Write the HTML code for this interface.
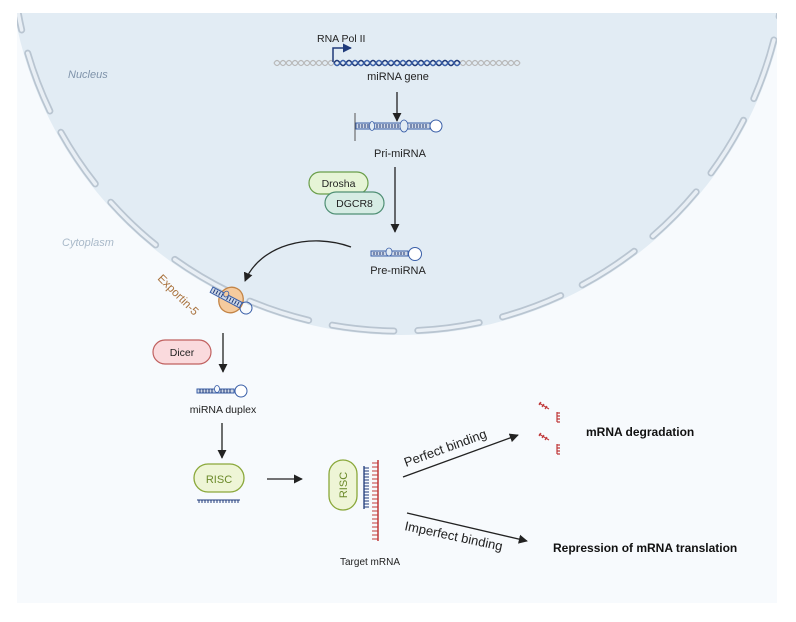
<!DOCTYPE html>
<html><head><meta charset="utf-8"><style>
body{margin:0;background:#fff;}
svg{display:block;font-family:"Liberation Sans",sans-serif;}
</style></head><body>
<svg width="796" height="622" viewBox="0 0 796 622" xmlns="http://www.w3.org/2000/svg">
<defs>
<clipPath id="pc"><rect x="17" y="13" width="760" height="590"/></clipPath>
<marker id="ah" viewBox="0 0 10 10" refX="9" refY="5" markerWidth="7" markerHeight="7" orient="auto"><path d="M0,0 L10,5 L0,10 z" fill="#222"/></marker>
<marker id="ahb" viewBox="0 0 10 10" refX="9" refY="5" markerWidth="6" markerHeight="6" orient="auto"><path d="M0,0 L10,5 L0,10 z" fill="#1f3a7a"/></marker>
</defs>
<rect x="17" y="13" width="760" height="590" fill="#f7fafd"/>
<g clip-path="url(#pc)">
<circle cx="399" cy="-56" r="391" fill="#e2ecf4"/>
<circle cx="399" cy="-56" r="387" fill="none" stroke="#b9c5d1" stroke-width="7" stroke-linecap="round" stroke-dasharray="62 24" stroke-dashoffset="-11"/>
<circle cx="399" cy="-56" r="387" fill="none" stroke="#e9eff5" stroke-width="3.5" stroke-linecap="round" stroke-dasharray="62 24" stroke-dashoffset="-11"/>
</g>
<text x="68" y="78" font-size="11" font-style="italic" fill="#7f93aa">Nucleus</text>
<text x="62" y="246" font-size="11" font-style="italic" fill="#a9b9c9">Cytoplasm</text>

<!-- DNA -->
<path d="M274,63 q3,-5 6,0 t6,0 t6,0 t6,0 t6,0 t6,0 t6,0 t6,0 t6,0 t6,0 t6,0 t6,0 t6,0 t6,0 t6,0 t6,0 t6,0 t6,0 t6,0 t6,0 t6,0 t6,0 t6,0 t6,0 t6,0 t6,0 t6,0 t6,0 t6,0 t6,0 t6,0 t6,0 t6,0 t6,0 t6,0 t6,0 t6,0 t6,0 t6,0 t6,0 t6,0" fill="none" stroke="#b8b8b8" stroke-width="1.2"/>
<path d="M274,63 q3,5 6,0 t6,0 t6,0 t6,0 t6,0 t6,0 t6,0 t6,0 t6,0 t6,0 t6,0 t6,0 t6,0 t6,0 t6,0 t6,0 t6,0 t6,0 t6,0 t6,0 t6,0 t6,0 t6,0 t6,0 t6,0 t6,0 t6,0 t6,0 t6,0 t6,0 t6,0 t6,0 t6,0 t6,0 t6,0 t6,0 t6,0 t6,0 t6,0 t6,0 t6,0" fill="none" stroke="#b8b8b8" stroke-width="1.2"/>
<path d="M334,63 q3,-5 6,0 t6,0 t6,0 t6,0 t6,0 t6,0 t6,0 t6,0 t6,0 t6,0 t6,0 t6,0 t6,0 t6,0 t6,0 t6,0 t6,0 t6,0 t6,0 t6,0 t6,0" fill="none" stroke="#1f3a7a" stroke-width="1.6"/>
<path d="M334,63 q3,5 6,0 t6,0 t6,0 t6,0 t6,0 t6,0 t6,0 t6,0 t6,0 t6,0 t6,0 t6,0 t6,0 t6,0 t6,0 t6,0 t6,0 t6,0 t6,0 t6,0 t6,0" fill="none" stroke="#3a5fa8" stroke-width="1.6"/>
<path d="M333,62 V48 H351" fill="none" stroke="#1f3a7a" stroke-width="1.5" marker-end="url(#ahb)"/>
<text x="317" y="42" font-size="10.5" fill="#222">RNA Pol II</text>
<text x="398" y="80" font-size="11" text-anchor="middle" fill="#222">miRNA gene</text>
<line x1="397" y1="92" x2="397" y2="121" stroke="#222" stroke-width="1.3" marker-end="url(#ah)"/>

<!-- Pri-miRNA -->
<line x1="355" y1="113" x2="355" y2="141" stroke="#555" stroke-width="1"/>
<rect x="356" y="123" width="74" height="6" fill="#cfd8e6" stroke="#3a5fa8" stroke-width="1"/>
<path d="M359,124v4M362,124v4M365,124v4M368,124v4M377,124v4M380,124v4M383,124v4M386,124v4M389,124v4M392,124v4M395,124v4M398,124v4M411,124v4M414,124v4M417,124v4M420,124v4M423,124v4M426,124v4" stroke="#1f3a7a" stroke-width="1"/>
<ellipse cx="372" cy="126" rx="2.5" ry="4.5" fill="#e2ecf4" stroke="#3a5fa8" stroke-width="0.8"/>
<ellipse cx="404" cy="126" rx="4" ry="6" fill="#e2ecf4" stroke="#3a5fa8" stroke-width="0.8"/>
<circle cx="436" cy="126" r="6" fill="#fff" stroke="#3a5fa8" stroke-width="1"/>
<text x="400" y="157" font-size="11" text-anchor="middle" fill="#222">Pri-miRNA</text>
<line x1="395" y1="167" x2="395" y2="232" stroke="#222" stroke-width="1.3" marker-end="url(#ah)"/>

<!-- Drosha DGCR8 -->
<rect x="309" y="172" width="59" height="22" rx="11" fill="#e6f4d6" stroke="#6a9e4a" stroke-width="1.2"/>
<text x="338.5" y="187" font-size="10.5" text-anchor="middle" fill="#222">Drosha</text>
<rect x="325" y="192" width="59" height="22" rx="11" fill="#d6ece4" stroke="#4f8f74" stroke-width="1.2"/>
<text x="354.5" y="207" font-size="10.5" text-anchor="middle" fill="#222">DGCR8</text>

<!-- Pre-miRNA -->
<rect x="371" y="251" width="37" height="5" fill="#cfd8e6" stroke="#3a5fa8" stroke-width="1"/>
<path d="M374,252v3M377,252v3M380,252v3M383,252v3M395,252v3M398,252v3M401,252v3M404,252v3" stroke="#1f3a7a"/>
<ellipse cx="389" cy="252" rx="3" ry="4" fill="#e2ecf4" stroke="#3a5fa8" stroke-width="0.8"/>
<circle cx="415" cy="254" r="6.5" fill="#fff" stroke="#3a5fa8" stroke-width="1"/>
<text x="398" y="274" font-size="11" text-anchor="middle" fill="#222">Pre-miRNA</text>
<path d="M351,247 C310,232 260,245 245,281" fill="none" stroke="#222" stroke-width="1.3" marker-end="url(#ah)"/>

<!-- Exportin -->
<g transform="translate(231,300) rotate(28)">
<ellipse cx="0" cy="0" rx="12" ry="13" fill="#f5cb9e" stroke="#c38446" stroke-width="1.3"/>
<rect x="-22" y="-3" width="33" height="6" fill="#cfd8e6" stroke="#3a5fa8" stroke-width="1"/>
<path d="M-19,-2v4M-16,-2v4M-13,-2v4M-10,-2v4M-4,-2v4M-1,-2v4M2,-2v4M5,-2v4M8,-2v4" stroke="#1f3a7a"/>
<ellipse cx="-7" cy="-3" rx="2.5" ry="3" fill="#f5cb9e" stroke="#3a5fa8" stroke-width="0.8"/>
<circle cx="17" cy="0" r="6" fill="none" stroke="#3a5fa8" stroke-width="1"/>
</g>
<text transform="translate(157,279) rotate(45)" font-size="11.5" fill="#a8713c">Exportin-5</text>

<!-- Dicer -->
<rect x="153" y="340" width="58" height="24" rx="12" fill="#fadadd" stroke="#c0605f" stroke-width="1.2"/>
<text x="182" y="356" font-size="10.5" text-anchor="middle" fill="#222">Dicer</text>
<line x1="223" y1="333" x2="223" y2="372" stroke="#222" stroke-width="1.3" marker-end="url(#ah)"/>

<!-- duplex -->
<rect x="197" y="389" width="37" height="4" fill="#cfd8e6" stroke="#3a5fa8" stroke-width="1"/>
<path d="M200,389v4M203,389v4M206,389v4M209,389v4M212,389v4M221,389v4M224,389v4M227,389v4M230,389v4" stroke="#1f3a7a"/>
<ellipse cx="217" cy="389" rx="2.5" ry="3.5" fill="#f7fafd" stroke="#3a5fa8" stroke-width="0.8"/>
<circle cx="241" cy="391" r="6" fill="#fff" stroke="#3a5fa8" stroke-width="1"/>
<text x="223" y="413" font-size="10.5" text-anchor="middle" fill="#222">miRNA duplex</text>
<line x1="222" y1="423" x2="222" y2="458" stroke="#222" stroke-width="1.3" marker-end="url(#ah)"/>

<!-- RISC -->
<rect x="194" y="464" width="50" height="28" rx="14" fill="#eef5d6" stroke="#8aa83a" stroke-width="1.3"/>
<text x="219" y="483" font-size="11" text-anchor="middle" fill="#6b8a2a">RISC</text>
<line x1="197" y1="500" x2="240" y2="500" stroke="#1f3a7a" stroke-width="1"/>
<path d="M199,500v3M202,500v3M205,500v3M208,500v3M211,500v3M214,500v3M217,500v3M220,500v3M223,500v3M226,500v3M229,500v3M232,500v3M235,500v3M238,500v3" stroke="#1f3a7a"/>
<line x1="267" y1="479" x2="302" y2="479" stroke="#222" stroke-width="1.3" marker-end="url(#ah)"/>

<rect x="329" y="460" width="28" height="50" rx="14" fill="#eef5d6" stroke="#8aa83a" stroke-width="1.3"/>
<text transform="translate(347,485) rotate(-90)" font-size="11" text-anchor="middle" fill="#6b8a2a">RISC</text>
<line x1="364" y1="466" x2="364" y2="509" stroke="#1f3a7a" stroke-width="1.3"/>
<path d="M364,468h5M364,471h5M364,474h5M364,477h5M364,480h5M364,483h5M364,486h5M364,489h5M364,492h5M364,495h5M364,498h5M364,501h5M364,504h5M364,507h5" stroke="#1f3a7a"/>
<line x1="378" y1="460" x2="378" y2="541" stroke="#c0393a" stroke-width="1.5"/>
<path d="M372,463h6M372,467h6M372,471h6M372,475h6M372,479h6M372,483h6M372,487h6M372,491h6M372,495h6M372,499h6M372,503h6M372,507h6M372,511h6M372,515h6M372,519h6M372,523h6M372,527h6M372,531h6M372,535h6M372,539h6" stroke="#c0393a"/>
<text x="370" y="565" font-size="10" text-anchor="middle" fill="#222">Target mRNA</text>

<line x1="403" y1="477" x2="518" y2="435" stroke="#222" stroke-width="1.3" marker-end="url(#ah)"/>
<text transform="translate(406,467) rotate(-20)" font-size="13" fill="#222">Perfect binding</text>
<line x1="407" y1="513" x2="527" y2="541" stroke="#222" stroke-width="1.3" marker-end="url(#ah)"/>
<text transform="translate(404,530) rotate(12)" font-size="13" fill="#222">Imperfect binding</text>

<g stroke="#c0393a" stroke-width="1.2" fill="none">
<path d="M539,403 l10,6 M541,402 l-2,3 M544,404 l-2,3 M547,406 l-2,3"/>
<path d="M557,412 v10 M557,413 h3 M557,416 h3 M557,419 h3 M557,422 h3"/>
<path d="M539,434 l10,6 M541,433 l-2,3 M544,435 l-2,3 M547,437 l-2,3"/>
<path d="M557,444 v10 M557,445 h3 M557,448 h3 M557,451 h3 M557,454 h3"/>
</g>
<text x="586" y="436" font-size="12" font-weight="bold" fill="#111">mRNA degradation</text>
<text x="553" y="552" font-size="12" font-weight="bold" fill="#111">Repression of mRNA translation</text>
</svg>
</body></html>
